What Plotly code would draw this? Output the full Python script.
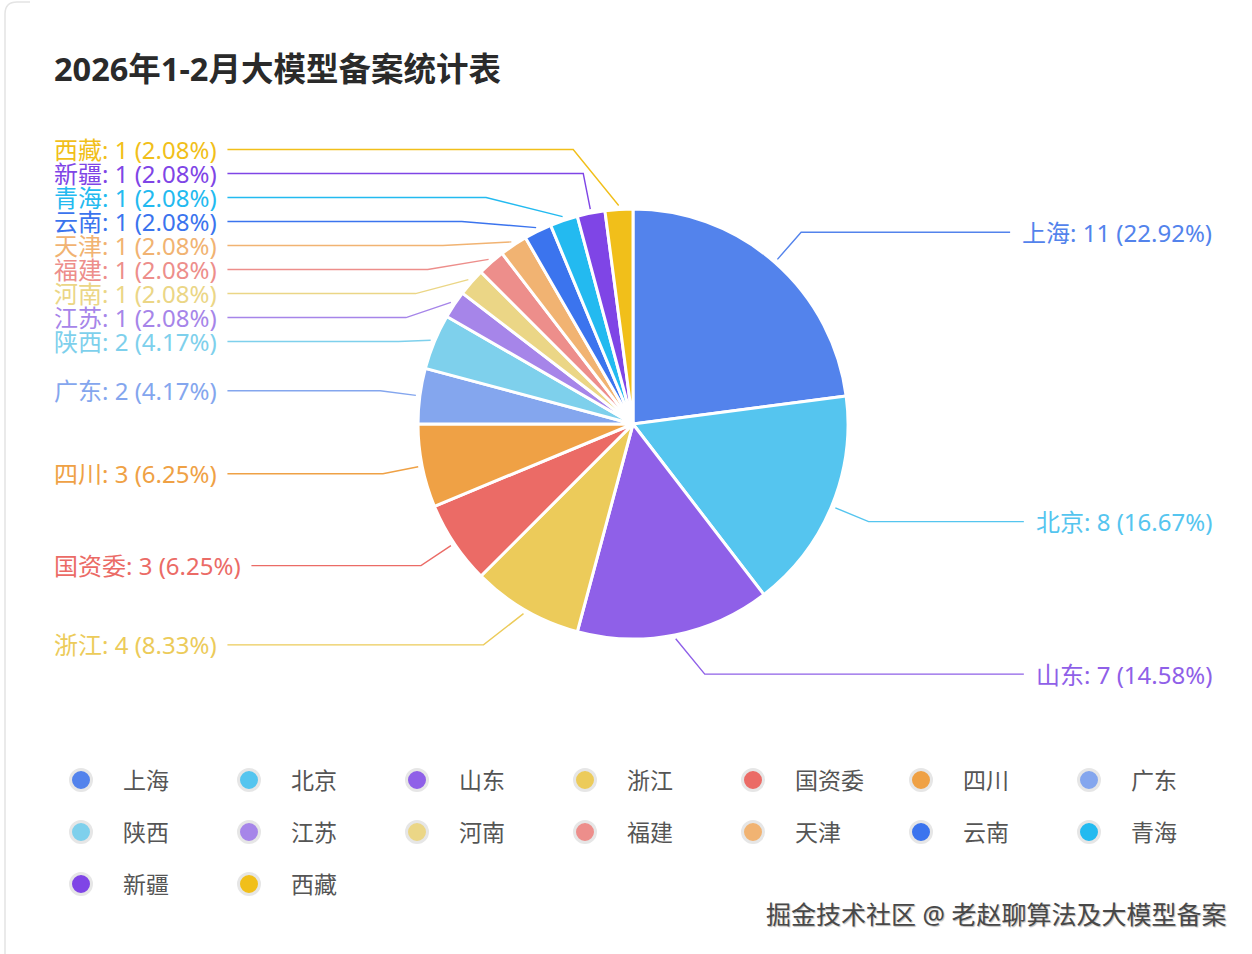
import math
import plotly.graph_objects as go

# 2026年1-2月 大模型备案数量（按地区）
regions = ["上海", "北京", "山东", "浙江", "国资委", "四川", "广东", "陕西",
           "江苏", "河南", "福建", "天津", "云南", "青海", "新疆", "西藏"]
counts = [11, 8, 7, 4, 3, 3, 2, 2, 1, 1, 1, 1, 1, 1, 1, 1]
colors = ["#5383EC", "#55C5EF", "#8F60E8", "#ECCB5A", "#EB6B66", "#EFA145",
          "#84A6EE", "#7ED0EC", "#A685E9", "#EBD686", "#ED8E8B", "#F1B372",
          "#3B74EE", "#23BAF0", "#7F45E6", "#F1BF1A"]
title = "2026年1-2月大模型备案统计表"
watermark = "掘金技术社区 @ 老赵聊算法及大模型备案"

W, H = 1252, 954
cx, cy, r = 633, 424, 215
FONT = "Noto Sans, Noto Sans CJK SC, sans-serif"
LABEL_FS = 24
LEFT_EDGE, RIGHT_EDGE = 52, 1214

total = sum(counts)
labels = [f"{n}: {v} ({v / total * 100:.2f}%)" for n, v in zip(regions, counts)]


def text_width(s, fs):
    # rough advance widths (Noto Sans latin + CJK full width)
    w = {":": 0.27, " ": 0.26, "(": 0.3, ")": 0.3, ".": 0.27, "%": 0.82}
    total_w = 0
    for ch in s:
        if ch.isdigit():
            total_w += 0.572
        elif ch in w:
            total_w += w[ch]
        else:
            total_w += 1.0
    return total_w * fs


# mid angle of each slice, clockwise from 12 o'clock
mids = []
acc = 0
for v in counts:
    mids.append((acc + v / 2) / total * 2 * math.pi)
    acc += v


def spread(ys0, gap):
    ys = []
    for y in ys0:
        ys.append(y if not ys else max(y, ys[-1] + gap))
    out = ys[:]
    i = 0
    while i < len(ys):
        j = i
        while j + 1 < len(ys) and ys[j + 1] - ys[j] <= gap + 1e-6:
            j += 1
        push = sum(ys[k] - ys0[k] for k in range(i, j + 1)) / (j - i + 1)
        for k in range(i, j + 1):
            out[k] = ys[k] - push / 2
        i = j + 1
    return out


label_y = [0.0] * len(counts)
for side in (1, -1):
    idx = [i for i, a in enumerate(mids) if (math.sin(a) > 0) == (side > 0)]
    idx.sort(key=lambda i: cy - (r + 40) * math.cos(mids[i]))
    ys0 = [cy - (r + 40) * math.cos(mids[i]) for i in idx]
    for i, y in zip(idx, spread(ys0, 24)):
        label_y[i] = y

fig = go.Figure()

fig.add_trace(go.Pie(
    labels=regions, values=counts, sort=False, direction="clockwise",
    rotation=0, textinfo="none", showlegend=False,
    marker=dict(colors=colors, line=dict(color="white", width=3)),
    domain=dict(x=[(cx - r) / W, (cx + r) / W],
                y=[1 - (cy + r) / H, 1 - (cy - r) / H]),
    hovertemplate="%{label}: %{value} (%{percent})<extra></extra>",
))

annotations = []
for i, a in enumerate(mids):
    side = 1 if math.sin(a) > 0 else -1
    y = label_y[i]
    y0 = cy - (r + 40) * math.cos(a)
    sx = cx + (r + 4) * math.sin(a)
    sy = cy - (r + 4) * math.cos(a)
    if abs(y - y0) > 1:
        dy = y - cy
        ex = cx + side * (r + 30) * math.sqrt(max(0, 1 - (dy / (r + 68)) ** 2))
    elif math.cos(a) < -0.8:
        # lower labels: elbow pulled sideways a little
        ex = cx + (r + 40) * math.sin(a) + side * 22
    else:
        ex = cx + (r + 40) * math.sin(a)
    tw = text_width(labels[i], LABEL_FS)
    if side > 0:
        endx = RIGHT_EDGE - tw - 14
    else:
        endx = LEFT_EDGE + tw + 13
    fig.add_trace(go.Scatter(
        x=[sx, ex, endx], y=[sy, y, y], mode="lines", hoverinfo="skip",
        line=dict(color=colors[i], width=1.4), showlegend=False,
    ))
    annotations.append(dict(
        x=RIGHT_EDGE if side > 0 else LEFT_EDGE, y=y, xref="x", yref="y",
        text=labels[i], showarrow=False,
        xanchor="right" if side > 0 else "left", yanchor="middle",
        font=dict(family=FONT, size=LABEL_FS, color=colors[i]),
    ))

# legend drawn as a grid of circles, 7 per row
per_row = 7
lx = [81 + 168 * (k % per_row) for k in range(len(regions))]
ly = [780 + 52 * (k // per_row) for k in range(len(regions))]
fig.add_trace(go.Scatter(
    x=lx, y=ly, mode="markers", hoverinfo="skip", showlegend=False,
    marker=dict(size=21, color=colors, line=dict(color="#E6E6E6", width=3)),
))
for k, name in enumerate(regions):
    annotations.append(dict(
        x=lx[k] + 40, y=ly[k], xref="x", yref="y", text=name, showarrow=False,
        xanchor="left", yanchor="middle",
        font=dict(family=FONT, size=23, color="#555555"),
    ))

annotations.append(dict(
    x=52, y=68, xref="x", yref="y", text=f"<b>{title}</b>", showarrow=False,
    xanchor="left", yanchor="middle",
    font=dict(family=FONT, size=32.5, color="#2a2a2a"),
))
annotations.append(dict(
    x=1228, y=914, xref="x", yref="y", text=watermark, showarrow=False,
    xanchor="right", yanchor="middle",
    font=dict(family=FONT, size=25, color="#484848",
              shadow="1px 1px 1px #bbbbbb"),
))

fig.update_layout(
    width=W, height=H, margin=dict(l=0, r=0, t=0, b=0),
    paper_bgcolor="white", plot_bgcolor="rgba(0,0,0,0)",
    xaxis=dict(range=[0, W], visible=False, fixedrange=True),
    yaxis=dict(range=[H, 0], visible=False, fixedrange=True),
    annotations=annotations,
    shapes=[dict(type="path", xref="x", yref="y",
                 path="M 5,960 L 5,14 Q 5,2 17,2 L 30,2",
                 line=dict(color="#E4E4E4", width=1.5))],
    hoverlabel=dict(font=dict(family=FONT)),
)

fig.write_html("out.html", config={"displayModeBar": False},
               post_script="document.body.style.margin='0';")
